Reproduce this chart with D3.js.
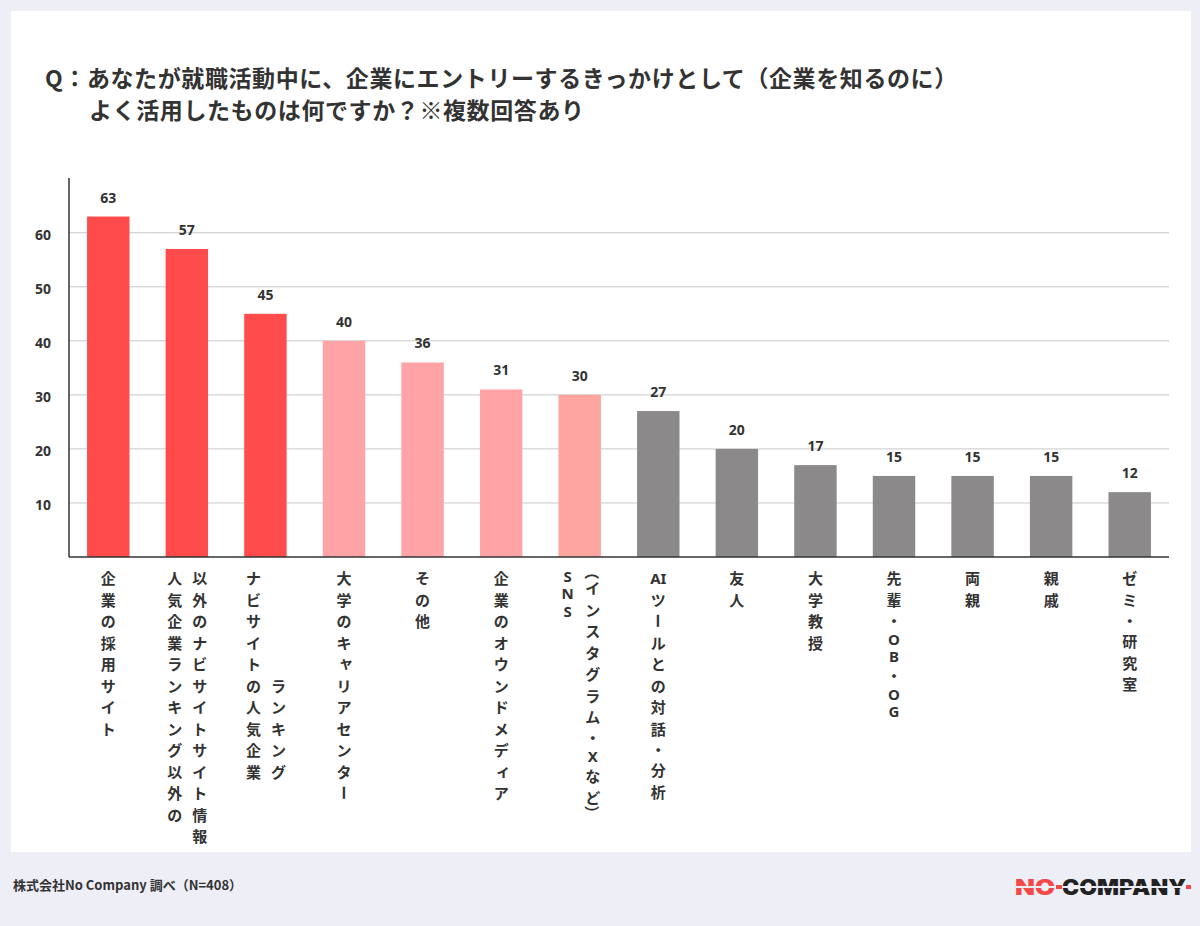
<!DOCTYPE html>
<html>
<head>
<meta charset="utf-8">
<script src="https://cdn.jsdelivr.net/npm/d3@7"></script>
<style>
  body { margin: 0; background: #eeeef7; }
  svg { display: block; font-family: "Noto Sans CJK JP", "Noto Sans", sans-serif; }
</style>
</head>
<body>
<svg id="chart" width="1200" height="926"></svg>
<script>
// data
var categories = [
  ["企業の採用サイト"],
  ["人気企業ランキング以外の", "以外のナビサイトサイト情報"],
  ["ナビサイトの人気企業", "　　　　　ランキング"],
  ["大学のキャリアセンター"],
  ["その他"],
  ["企業のオウンドメディア"],
  ["SNS", "（インスタグラム・Xなど）"],
  ["AIツールとの対話・分析"],
  ["友人"],
  ["大学教授"],
  ["先輩・OB・OG"],
  ["両親"],
  ["親戚"],
  ["ゼミ・研究室"]
];
var values = [63, 57, 45, 40, 36, 31, 30, 27, 20, 17, 15, 15, 15, 12];
var yTicks = [10, 20, 30, 40, 50, 60];
var titleLines = [
  "Q：あなたが就職活動中に、企業にエントリーするきっかけとして（企業を知るのに）",
  "よく活用したものは何ですか？※複数回答あり"
];
var source = "株式会社No Company 調べ（N=408）";

var svg = d3.select("#chart");

// white card
svg.append("rect")
  .attr("x", 11).attr("y", 11)
  .attr("width", 1180).attr("height", 841)
  .attr("fill", "#fff");

// title
svg.append("text")
  .attr("x", 45).attr("y", 87)
  .attr("font-size", 23).attr("font-weight", 700).attr("fill", "#333")
  .attr("letter-spacing", 0.6)
  .text(titleLines[0]);
svg.append("text")
  .attr("x", 89).attr("y", 119)
  .attr("font-size", 23).attr("font-weight", 700).attr("fill", "#333")
  .attr("letter-spacing", 0.6)
  .text(titleLines[1]);

var x0 = 69, x1 = 1169, yBase = 557;

var x = d3.scaleBand()
  .domain(d3.range(values.length))
  .range([x0, x1])
  .paddingInner(0.46)
  .paddingOuter(0.23);

var y = d3.scaleLinear()
  .domain([0, 70.5])
  .range([yBase, 176]);

// gridlines
svg.append("g").selectAll("line")
  .data(yTicks)
  .enter().append("line")
  .attr("x1", x0).attr("x2", x1)
  .attr("y1", function (d) { return y(d); })
  .attr("y2", function (d) { return y(d); })
  .attr("stroke", "#c8c8c8")
  .attr("stroke-width", 1);

// y tick labels
var yAxis = svg.append("g")
  .attr("transform", "translate(" + x0 + ",0)")
  .call(d3.axisLeft(y).tickValues(yTicks).tickSize(0).tickPadding(18));
yAxis.select(".domain").remove();
yAxis.selectAll("text")
  .attr("font-family", "'Noto Sans', sans-serif")
  .attr("font-size", 14).attr("font-weight", 700).attr("fill", "#333")
  .attr("dy", "0.45em");

function barColor(i) {
  if (i < 3) return "#ff4b4b";
  if (i < 6) return "#ffa3a6";
  if (i < 7) return "#ffa59f";
  return "#8b898a";
}

// bars
svg.append("g").selectAll("rect")
  .data(values)
  .enter().append("rect")
  .attr("x", function (d, i) { return x(i); })
  .attr("y", function (d) { return y(d); })
  .attr("width", x.bandwidth())
  .attr("height", function (d) { return yBase - y(d); })
  .attr("fill", function (d, i) { return barColor(i); });

// value labels
svg.append("g").selectAll("text")
  .data(values)
  .enter().append("text")
  .attr("x", function (d, i) { return x(i) + x.bandwidth() / 2; })
  .attr("y", function (d) { return y(d) - 14; })
  .attr("text-anchor", "middle")
  .attr("font-family", "'Noto Sans', sans-serif")
  .attr("font-size", 14).attr("font-weight", 700).attr("fill", "#333")
  .text(function (d) { return d; });

// axis lines
svg.append("line")
  .attr("x1", x0).attr("x2", x0).attr("y1", 178).attr("y2", yBase)
  .attr("stroke", "#333").attr("stroke-width", 1.5);
svg.append("line")
  .attr("x1", x0).attr("x2", x1).attr("y1", yBase).attr("y2", yBase)
  .attr("stroke", "#333").attr("stroke-width", 1.5);

// vertical category labels, one glyph per row
var rotated = "ー（）";
var small = "ャュョッァィゥェォ";
function tokenHeight(t) {
  if (/^[A-Za-z]$/.test(t)) return 17.5;
  if (t === "（" || t === "）") return 10;
  if (t === "・") return 20;
  return 21.5;
}

var labelG = svg.append("g")
  .attr("font-size", 15).attr("font-weight", 700).attr("fill", "#333");

categories.forEach(function (cols, i) {
  var cx = x(i) + x.bandwidth() / 2;
  cols.forEach(function (str, c) {
    var colX = cols.length === 1 ? cx : cx + (c === 0 ? -12 : 13);
    var tokens = str.match(/AI|./gu);
    var pos = 567, prev = 0;
    tokens.forEach(function (t, k) {
      var h = tokenHeight(t);
      pos += k === 0 ? h / 2 : (prev + h) / 2;
      prev = h;
      if (t === "　") return;
      var dx = small.indexOf(t) >= 0 ? 2 : 0;
      var dy = small.indexOf(t) >= 0 ? -2 : 0;
      var txt = labelG.append("text")
        .attr("text-anchor", "middle")
        .attr("dominant-baseline", "central")
        .attr("transform", "translate(" + (colX + dx) + "," + (pos + dy) + ")" +
          (rotated.indexOf(t) >= 0 ? " rotate(90)" : ""))
        .text(t);
      if (/[A-Za-z]/.test(t)) txt.attr("font-family", "'Noto Sans', sans-serif");
    });
  });
});

// footer
svg.append("text")
  .attr("x", 13).attr("y", 890)
  .attr("font-size", 13).attr("font-weight", 700).attr("fill", "#333")
  .text(source);

// logo
var logo = svg.append("g")
  .attr("font-family", "Inter, Roboto, sans-serif")
  .attr("font-size", 21).attr("font-weight", 900);
logo.append("text")
  .attr("x", 1015).attr("y", 895)
  .attr("textLength", 40).attr("lengthAdjust", "spacingAndGlyphs")
  .attr("fill", "#f24848").text("NO");
logo.append("text")
  .attr("x", 1062).attr("y", 895)
  .attr("textLength", 124).attr("lengthAdjust", "spacingAndGlyphs")
  .attr("fill", "#222").text("COMPANY");
logo.append("rect")
  .attr("x", 1015).attr("y", 886).attr("width", 175).attr("height", 2)
  .attr("fill", "#eeeef7");
logo.append("rect")
  .attr("x", 1056).attr("y", 885).attr("width", 6).attr("height", 4)
  .attr("fill", "#f24848");
logo.append("rect")
  .attr("x", 1186).attr("y", 885).attr("width", 5).attr("height", 4)
  .attr("fill", "#f24848");
</script>
</body>
</html>
